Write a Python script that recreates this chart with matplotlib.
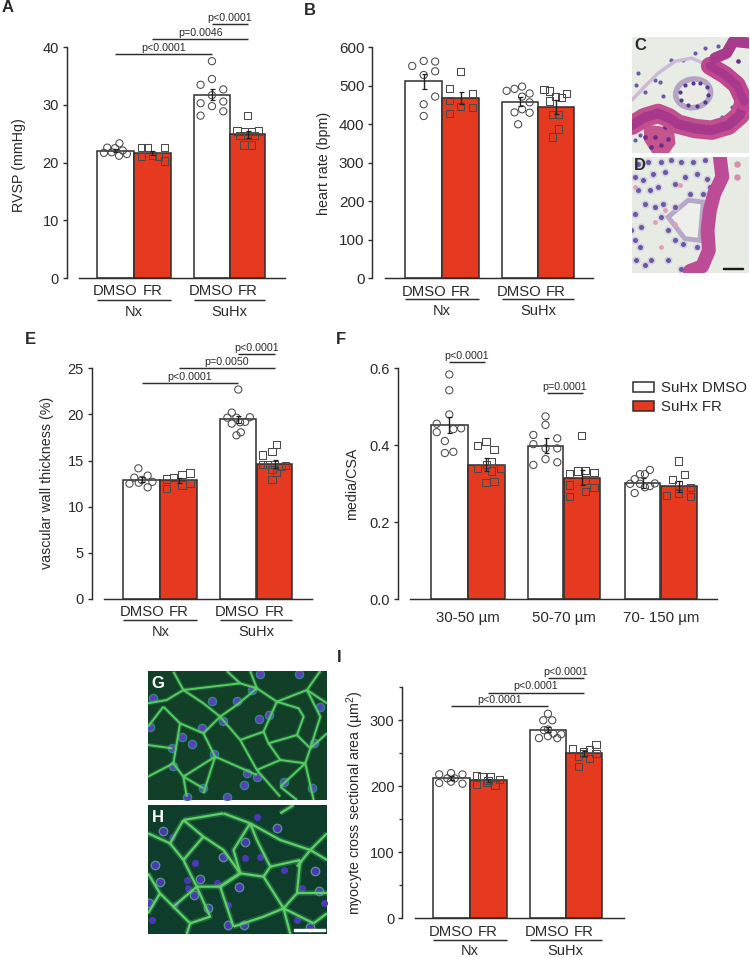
import matplotlib
matplotlib.use("Agg")
import matplotlib.pyplot as plt
from matplotlib.patches import Patch, Ellipse, Polygon, Rectangle
from matplotlib.collections import LineCollection

plt.rcParams['font.family'] = ['Liberation Sans', 'DejaVu Sans']
plt.rcParams['mathtext.default'] = 'regular'
plt.rcParams['text.color'] = '#2a2a2a'

W, H = 750, 957
INK = '#2e2e2e'
RED = '#E63A20'

# ---------- data ----------
groups = ['DMSO', 'FR', 'DMSO', 'FR']
group_names = ['Nx', 'SuHx']

a_means = [22.1, 21.7, 31.8, 24.9]
a_errs = [0.3, 0.35, 0.95, 0.55]
a_y = [[22.6, 22.5, 23.35, 21.7, 21.8, 22.1, 21.5, 21.2],
       [22.6, 22.6, 22.6, 21.0, 21.2, 21.0, 20.3],
       [37.6, 34.5, 33.5, 32.7, 31.7, 30.3, 30.6, 29.8, 28.9, 28.15],
       [28.2, 25.5, 25.4, 25.4, 25.5, 24.7, 24.7, 24.7, 23.05, 23.05]]
a_dx = [[-.21, 0, .12, -.30, -.09, .21, .32, .11],
        [-.29, -.14, .32, -.29, 0, .16, .32],
        [0, 0, -.31, .31, 0, -.31, .31, 0, .31, -.31],
        [0, -.31, -.1, .1, .3, -.22, 0, .2, -.11, .1]]

b_means = [511.7, 469, 459, 446]
b_errs = [20, 16, 12, 18]
b_y = [[551.5, 564.5, 563, 537.7, 528, 472, 452, 421.6],
       [537, 494, 480, 461.5, 446, 444, 428.6],
       [498, 492, 487, 480, 472, 457, 439, 431, 430, 400],
       [491, 486.6, 481, 473, 469, 460.6, 426, 426, 388, 367]]
b_dx = [[-.31, 0, .31, .31, 0, .31, 0, 0],
        [0, -.31, .31, -.31, 0, .31, -.31],
        [.05, -.16, -.38, .26, .05, .26, .05, -.16, .26, -.06],
        [-.33, -.17, .31, 0, .15, -.17, -.1, .07, .07, -.09]]

e_means = [12.93, 12.86, 19.47, 14.63]
e_errs = [.25, .3, .4, .4]
e_y = [[14.16, 13.37, 13.15, 12.9, 12.7, 12.5, 12.6, 12.1],
       [13.0, 13.15, 13.5, 13.66, 12.5, 12.36, 11.96],
       [22.7, 20.2, 19.65, 19.65, 19.7, 19.0, 19.15, 19.2, 18.06, 17.74],
       [16.76, 15.97, 15.6, 14.6, 14.6, 14.6, 14.5, 14.4, 14.05, 13.7, 12.97]]
e_dx = [[-.09, .16, -.2, 0, .29, -.33, -.08, .16],
        [-.32, -.13, .09, .3, .3, .09, -.32],
        [0, -.18, -.3, -.05, .32, -.18, .05, .19, .07, -.05],
        [.06, -.07, -.33, -.33, -.2, 0, .3, .18, -.07, .06, -.07]]

f_means = [.453, .349, .399, .316, .302, .293]
f_errs = [.021, .017, .02, .02, .012, .015]
f_y = [[.584, .543, .480, .456, .434, .442, .444, .411, .380, .383],
       [.399, .410, .390, .358, .339, .333, .339, .303, .306, .350],
       [.475, .453, .427, .418, .403, .392, .392, .364, .356, .349],
       [.426, .326, .333, .334, .330, .310, .297, .290, .280, .268],
       [.336, .325, .325, .312, .300, .300, .291, .294, .301, .276],
       [.359, .324, .312, .291, .297, .269, .274, .267]]
f_dx = [[0, 0, 0, -.34, -.34, .11, .32, -.12, -.12, .11],
        [-.23, -.01, .21, .14, -.23, .14, .39, -.01, .21, 0],
        [0, 0, -.34, .33, -.34, 0, .33, 0, .33, -.34],
        [0, -.35, -.12, .1, .34, .1, -.35, .34, .1, -.35],
        [.2, -.08, .06, -.23, -.36, -.08, .06, .2, .34, -.23],
        [0, .17, -.18, .33, 0, -.34, 0, .33]]
f_labels = ['30-50 µm', '50-70 µm', '70- 150 µm']

i_means = [212, 209, 286, 250]
i_errs = [3, 2.5, 4, 4]
i_y = [[218, 220, 218, 205, 207, 204, 212, 212],
       [216, 215, 215, 210, 203, 206, 202, 209],
       [310, 300, 300, 285, 286, 279, 273, 276, 273, 280],
       [263, 257, 256, 252, 250, 246, 242, 230, 250]]
i_dx = [[-.32, 0, .31, -.32, 0, .31, -.1, .1],
        [-.31, -.16, .06, .31, -.31, -.05, .19, 0],
        [0, -.13, .12, -.11, 0, .37, -.25, 0, .26, .15],
        [.34, -.31, .16, 0, .34, -.16, .16, -.16, 0]]

fig = plt.figure(figsize=(W / 100, H / 100), dpi=100)


def px_text(x, y, s, **kw):
    return fig.text(x / W, 1 - y / H, s, ha=kw.pop('ha', 'center'), va=kw.pop('va', 'center'), **kw)


def make_axes(left, right, top, bottom, first_center, unit, ymax, yticks, ylabel, label_xy,
              tick_size=10.5, yfmt=None, minor=None):
    ax = fig.add_axes([left / W, 1 - bottom / H, (right - left) / W, (bottom - top) / H])
    ax.patch.set_alpha(0)
    ax.set_xlim((left - first_center) / unit, (right - first_center) / unit)
    ax.set_ylim(0, ymax)
    for s in ('top', 'right'):
        ax.spines[s].set_visible(False)
    ax.spines['left'].set_linewidth(1.05)
    ax.spines['left'].set_color(INK)
    ax.spines['bottom'].set_linewidth(1.05)
    ax.spines['bottom'].set_color(INK)
    ax.spines['bottom'].set_bounds((left + 12.3 - first_center) / unit, (right - first_center) / unit)
    ax.set_xticks([])
    ax.set_yticks(yticks)
    if yfmt:
        ax.set_yticklabels([yfmt % t for t in yticks])
    if minor:
        ax.set_yticks(minor, minor=True)
        ax.tick_params(axis='y', which='minor', length=2.5, width=0.9, color=INK)
    ax.tick_params(axis='y', which='major', length=3.2, width=1.0, color=INK,
                   labelsize=tick_size, labelcolor='#2a2a2a', pad=2.5)
    ax.set_ylabel(ylabel, fontsize=10.3, color='#2a2a2a')
    ax.yaxis.label.set_verticalalignment('center')
    ax.yaxis.set_label_coords((label_xy[0] - left) / (right - left), (bottom - label_xy[1]) / (bottom - top))
    ax._px_h = bottom - top
    return ax


def draw_bars(ax, pos, widths, means, errs, ys, dxs):
    for k, (p, wd, m, e) in enumerate(zip(pos, widths, means, errs)):
        white = k % 2 == 0
        ax.bar(p, m, width=wd, color='white' if white else RED, edgecolor=INK, linewidth=1.1, zorder=2)
        ax.scatter([p + d * wd for d in dxs[k]], ys[k], s=27, marker='o' if white else 's',
                   facecolors='none', edgecolors='#4a4a4a', linewidths=0.75, zorder=3, clip_on=False)
        ax.errorbar(p, m, yerr=e, color='#222222', elinewidth=1.0, capsize=1.8, capthick=0.9, zorder=4)


def below_text(ax, x, dy, s, size):
    ax.annotate(s, (x, 0), xycoords=('data', 'axes fraction'), xytext=(0, -dy * 0.72),
                textcoords='offset points', ha='center', va='center', fontsize=size, color='#2a2a2a')


def group_axis(ax, pos, widths, d1, d2, d3, fs=10.7):
    fr_shift = [0, 0, -0.03, 0]
    for k, p in enumerate(pos):
        below_text(ax, p + fr_shift[k], d1, groups[k], fs)
    trans = ax.get_xaxis_transform()
    yy = -d2 / ax._px_h
    for g in (0, 2):
        x0 = pos[g] - widths[g] / 2
        x1 = pos[g + 1] + widths[g + 1] / 2
        ax.plot([x0, x1], [yy, yy], transform=trans, color=INK, lw=1.05, clip_on=False, solid_capstyle='butt')
        below_text(ax, (x0 + x1) / 2, d3, group_names[g // 2], 10.5)


def bracket(ax, x0, x1, y, label, gap=6.3):
    ax.plot([x0, x1], [y, y], color=INK, lw=1.05, clip_on=False, solid_capstyle='butt')
    ax.annotate(label, ((x0 + x1) / 2, y), xytext=(0, gap * 0.72), textcoords='offset points',
                ha='center', va='center', fontsize=7.7, color='#2a2a2a', annotation_clip=False)


# Panel A
pos = [0, 1.01, 2.62, 3.59]
wid = [1, 1.01, .99, .95]
axA = make_axes(66.7, 285, 47.3, 278, 115, 37, 40, [0, 10, 20, 30, 40], 'RVSP (mmHg)', (19, 165))
draw_bars(axA, pos, wid, a_means, a_errs, a_y, a_dx)
group_axis(axA, pos, wid, 13, 21.7, 33.7)
bracket(axA, pos[0], pos[2], 38.8, 'p<0.0001')
bracket(axA, pos[1], pos[3], 41.4, 'p=0.0046')
bracket(axA, pos[2], pos[3], 44.05, 'p<0.0001')

# Panel B
pos = [0, 1, 2.61, 3.57]
wid = [1, 1, .97, .965]
axB = make_axes(372.3, 593, 47.3, 278.3, 423.7, 37, 600, [0, 100, 200, 300, 400, 500, 600],
                'heart rate (bpm)', (324, 163), tick_size=11)
draw_bars(axB, pos, wid, b_means, b_errs, b_y, b_dx)
group_axis(axB, pos, wid, 13.7, 21, 32.3)

# Panel E
pos = [0, 1, 2.61, 3.59]
wid = [1, 1.01, .98, .965]
axE = make_axes(91.7, 311.7, 368.3, 599, 141.7, 37, 25, [0, 5, 10, 15, 20, 25],
                'vascular wall thickness (%)', (46.7, 483))
draw_bars(axE, pos, wid, e_means, e_errs, e_y, e_dx)
group_axis(axE, pos, wid, 12.7, 21.3, 33.3)
bracket(axE, pos[0], pos[2], 23.4, 'p<0.0001')
bracket(axE, pos[1], pos[3], 25.0, 'p=0.0050')
bracket(axE, pos[2], pos[3], 26.55, 'p<0.0001')

# Panel F
pos = [0, 1, 2.6, 3.58, 5.23, 6.2]
wid = [1, 1, .965, .965, .955, .97]
axF = make_axes(397.7, 716.7, 368.3, 599.3, 449.3, 37, .6, [0, .2, .4, .6], 'media/CSA', (351.7, 484),
                yfmt='%.1f', tick_size=10.5)
draw_bars(axF, pos, wid, f_means, f_errs, f_y, f_dx)
for k, lab in enumerate(f_labels):
    below_text(axF, (pos[2 * k] + pos[2 * k + 1]) / 2, 19, lab, 10.8)
bracket(axF, pos[0] - 0.02, pos[1] - 0.04, .616, 'p<0.0001', gap=6.3)
bracket(axF, pos[2] + 0.03, pos[3] + 0.03, .535, 'p=0.0001', gap=6.6)
leg = axF.legend(handles=[Patch(facecolor='white', edgecolor=INK, linewidth=1.1, label='SuHx DMSO'),
                          Patch(facecolor=RED, edgecolor=INK, linewidth=1.1, label='SuHx FR')],
                 loc='upper left', bbox_to_anchor=((632.5 - 397.7) / 319, 1 - (381 - 368.3) / 231),
                 frameon=False, fontsize=10.8, handlelength=1.45, handleheight=0.65, handletextpad=0.42,
                 labelspacing=0.36, borderpad=0, borderaxespad=0)

# Panel I
pos = [0, 1, 2.62, 3.59]
wid = [1, 1, .97, .965]
axI = make_axes(402.3, 624, 687.3, 918.3, 451, 37, 350, [0, 100, 200, 300],
                'myocyte cross sectional area (µm$^2$)', (355.7, 803), minor=[50, 150, 250, 350])
draw_bars(axI, pos, wid, i_means, i_errs, i_y, i_dx)
group_axis(axI, pos, wid, 13.3, 21.7, 32.7)
bracket(axI, pos[0], pos[2], 321.7, 'p<0.0001')
bracket(axI, pos[1], pos[3], 342, 'p<0.0001')
bracket(axI, pos[2], pos[3], 364, 'p<0.0001')


# ---------- micrographs, sketched ----------
def pic_axes(l, r, t, b, xr, yr, bg):
    ax = fig.add_axes([l / W, 1 - b / H, (r - l) / W, (b - t) / H])
    ax.set_xlim(*xr)
    ax.set_ylim(yr[1], yr[0])
    ax.set_facecolor(bg)
    ax.set_xticks([])
    ax.set_yticks([])
    for s in ax.spines.values():
        s.set_visible(False)
    return ax


def stroke(ax, pts, color, lw, alpha=1.0):
    xs, ys = zip(*pts)
    ax.plot(xs, ys, color=color, lw=lw, alpha=alpha, solid_capstyle='round', solid_joinstyle='round')


def dots(ax, pts, color, s, alpha=1.0):
    xs, ys = zip(*pts)
    ax.scatter(xs, ys, s=s, color=color, alpha=alpha, linewidths=0)


# C
pc = pic_axes(632, 749, 37, 153, (22, 372), (22, 368), '#E7ECE5')
stroke(pc, [(22, 210), (60, 170), (100, 130), (150, 95), (200, 85), (255, 108)], '#CDBBD6', 2.5)
band_c = [(22, 285), (60, 262), (100, 250), (130, 262), (160, 282), (210, 295), (260, 300), (310, 285),
          (345, 255), (358, 215)]
stroke(pc, band_c, '#C2508F', 14)
stroke(pc, band_c, '#A8388C', 7)
stroke(pc, [(358, 215), (335, 165), (300, 135), (255, 108)], '#C0478F', 13)
stroke(pc, [(358, 215), (335, 165), (300, 135), (255, 108)], '#A8388C', 6)
stroke(pc, [(372, 40), (325, 35), (305, 70), (270, 85)], '#A83A8C', 8)
pc.add_patch(Polygon([(60, 285), (145, 295), (150, 340), (130, 368), (85, 368), (60, 330)], color='#C5558F'))
pc.add_patch(Ellipse((205, 190), 105, 85, angle=-10, fc='#EDEBE6', ec='#B7A3C4', lw=4))
dots(pc, [(165, 185), (180, 165), (205, 158), (225, 160), (245, 170), (250, 195), (240, 215), (215, 228),
          (190, 225), (170, 210)], '#4E3C8C', 9)
dots(pc, [(40, 285), (75, 270), (105, 262), (140, 280), (175, 292), (205, 305), (240, 310), (275, 305), (310, 295),
          (345, 265), (355, 225), (335, 185), (300, 150), (265, 120), (320, 45), (345, 40), (340, 95), (90, 320),
          (110, 345), (80, 350), (130, 325), (60, 320), (120, 290), (230, 285), (290, 268), (330, 240)], '#6A2A90', 11)
dots(pc, [(40, 130), (35, 165), (60, 185), (90, 150), (105, 155), (140, 90), (210, 70), (240, 55), (280, 50),
          (30, 330), (45, 315), (115, 198), (320, 230), (290, 260), (175, 90)], '#6B5AA8', 9)

# D
pd_ = pic_axes(632, 749, 157, 273, (22, 372), (380, 728), '#E6EBE4')
pd_.add_patch(Polygon([(130, 560), (190, 510), (235, 515), (225, 630), (180, 625)], fc='#EEEFEA', ec='#B7A9C6', lw=3.5))
band_d = [(285, 382), (292, 440), (268, 490), (255, 540), (248, 600), (252, 660), (232, 708), (195, 722)]
stroke(pd_, band_d, '#BC4C95', 10)
dots(pd_, [(292, 420), (282, 470), (262, 520), (252, 570), (248, 620), (245, 660), (225, 705), (200, 718),
           (285, 395), (290, 450), (270, 495), (258, 545), (250, 595), (250, 640), (238, 690)], '#7A2C90', 12)
dots(pd_, [(335, 400), (335, 440)], '#D98FB0', 22)
cl = [(40, 400), (70, 395), (110, 395), (140, 390), (170, 395), (205, 395), (240, 390), (30, 440), (55, 450), (85, 430),
      (120, 425), (150, 460), (180, 440), (215, 430), (245, 445), (255, 470), (40, 480), (75, 480), (100, 470), (60, 520),
      (30, 550), (50, 590), (30, 630), (45, 650), (35, 690), (130, 600), (150, 630), (175, 640), (215, 650), (130, 690),
      (80, 690), (60, 705), (170, 715), (110, 560), (90, 530), (115, 520), (150, 530), (195, 490), (235, 490), (20, 600)]
dots(pd_, cl, '#CDC3DA', 34, alpha=0.7)
dots(pd_, cl, '#5E4CA0', 13, alpha=0.9)
dots(pd_, [(165, 465), (120, 540), (90, 575), (150, 580), (30, 470), (110, 650)], '#E2A0B4', 12)
pd_.add_patch(Rectangle((293, 712), 60, 4, color='#1a1a1a'))

# G
g_lines = [[(24, 130), (80, 120), (130, 90), (100, 35)],
           [(130, 90), (190, 130), (240, 170), (300, 240), (350, 330), (420, 410)],
           [(130, 90), (300, 70), (350, 85), (410, 125), (500, 90), (540, 33)],
           [(410, 125), (370, 215), (300, 240)],
           [(410, 125), (475, 145), (490, 170), (470, 225), (385, 250), (370, 215)],
           [(385, 250), (420, 300), (350, 330)],
           [(470, 225), (510, 265), (495, 310), (420, 380)],
           [(420, 300), (495, 310)],
           [(24, 350), (100, 310), (130, 350), (140, 410)],
           [(100, 310), (120, 190), (70, 140)],
           [(120, 190), (190, 220), (225, 290), (350, 345)],
           [(225, 290), (130, 350)],
           [(190, 220), (240, 170)],
           [(495, 310), (520, 420)],
           [(510, 265), (560, 220)],
           [(500, 90), (560, 130)],
           [(190, 400), (225, 290)],
           [(300, 70), (260, 33)],
           [(24, 200), (70, 140)],
           [(24, 255), (97, 265)],
           [(130, 350), (190, 385)],
           [(350, 85), (330, 33)],
           [(500, 90), (540, 170), (510, 265)],
           [(420, 380), (470, 420)],
           [(240, 170), (290, 135), (350, 85)]]
g_nuc = [(40, 115), (215, 122), (290, 122), (335, 90), (360, 42), (250, 182), (355, 178), (385, 165), (185, 205),
         (155, 252), (223, 282), (97, 265), (100, 318), (320, 340), (350, 350), (310, 375), (430, 365), (515, 385),
         (540, 140), (520, 250), (190, 385), (140, 412), (260, 412), (475, 42), (30, 200), (125, 230)]
pg = pic_axes(148, 327, 671, 800, (24, 560), (33, 420), '#123F28')
pg.add_collection(LineCollection(g_lines, colors='#3FB05A', linewidths=3.2, alpha=0.3))
pg.add_collection(LineCollection(g_lines, colors='#55CC62', linewidths=1.4, alpha=1))
dots(pg, g_nuc, '#45B4D0', 48, alpha=0.6)
dots(pg, g_nuc, '#5A3FB8', 24)

# H
h_lines = [[(130, 480), (190, 530), (250, 570), (300, 640), (370, 650), (430, 745), (450, 822)],
           [(250, 460), (330, 490), (420, 540), (510, 570), (560, 600)],
           [(330, 490), (350, 540), (390, 620), (370, 650)],
           [(24, 520), (90, 550), (130, 480)],
           [(90, 550), (130, 600), (170, 680), (100, 740), (60, 700)],
           [(300, 640), (240, 680), (170, 680)],
           [(240, 680), (280, 800)],
           [(430, 745), (520, 790)],
           [(480, 600), (470, 700), (430, 745)],
           [(510, 570), (470, 620)],
           [(100, 740), (150, 790), (140, 822)],
           [(390, 620), (480, 600)],
           [(420, 460), (460, 435)],
           [(250, 460), (130, 480)],
           [(470, 700), (560, 700)],
           [(24, 640), (60, 700)],
           [(130, 600), (190, 530)],
           [(240, 680), (300, 640)],
           [(280, 800), (370, 770), (430, 745)],
           [(170, 680), (210, 770), (150, 790)],
           [(520, 790), (560, 760)],
           [(510, 570), (560, 520)],
           [(300, 640), (280, 570), (330, 490)],
           [(60, 700), (24, 760)]]
h_nuc = [(70, 512), (95, 530), (410, 505), (350, 470), (315, 545), (358, 590), (45, 615), (165, 610), (250, 590),
         (315, 595), (60, 665), (140, 660), (180, 657), (145, 685), (163, 705), (230, 670), (295, 680), (430, 630),
         (525, 632), (485, 685), (535, 692), (105, 735), (205, 745), (265, 735), (28, 730), (35, 780), (265, 795),
         (470, 780), (510, 800), (550, 730), (310, 795)]
ph = pic_axes(148, 327, 805, 934, (24, 560), (435, 822), '#0F3D2C')
ph.add_collection(LineCollection(h_lines, colors='#3FB05A', linewidths=4, alpha=0.35))
ph.add_collection(LineCollection(h_lines, colors='#5FD068', linewidths=1.6, alpha=1))
dots(ph, h_nuc[::2], '#8FD8E0', 50, alpha=0.55)
dots(ph, h_nuc, '#4A38B4', 26)
ph.add_patch(Rectangle((462, 808), 93, 4.5, color='white'))

# ---------- panel letters ----------
for s, x, y in [('A', 8, 8), ('B', 310, 10.5), ('E', 30, 340), ('F', 341, 340), ('I', 339, 658)]:
    px_text(x, y, s, fontsize=12, fontweight='bold', color='#2a2a2a')
px_text(640, 46, 'C', fontsize=12, fontweight='bold', color='#2a2a2a', zorder=10)
px_text(640, 166, 'D', fontsize=12, fontweight='bold', color='#2a2a2a', zorder=10)
px_text(158, 684, 'G', fontsize=12, fontweight='bold', color='white', zorder=10)
px_text(158, 818, 'H', fontsize=12, fontweight='bold', color='white', zorder=10)

fig.savefig('out.png', dpi=100)
